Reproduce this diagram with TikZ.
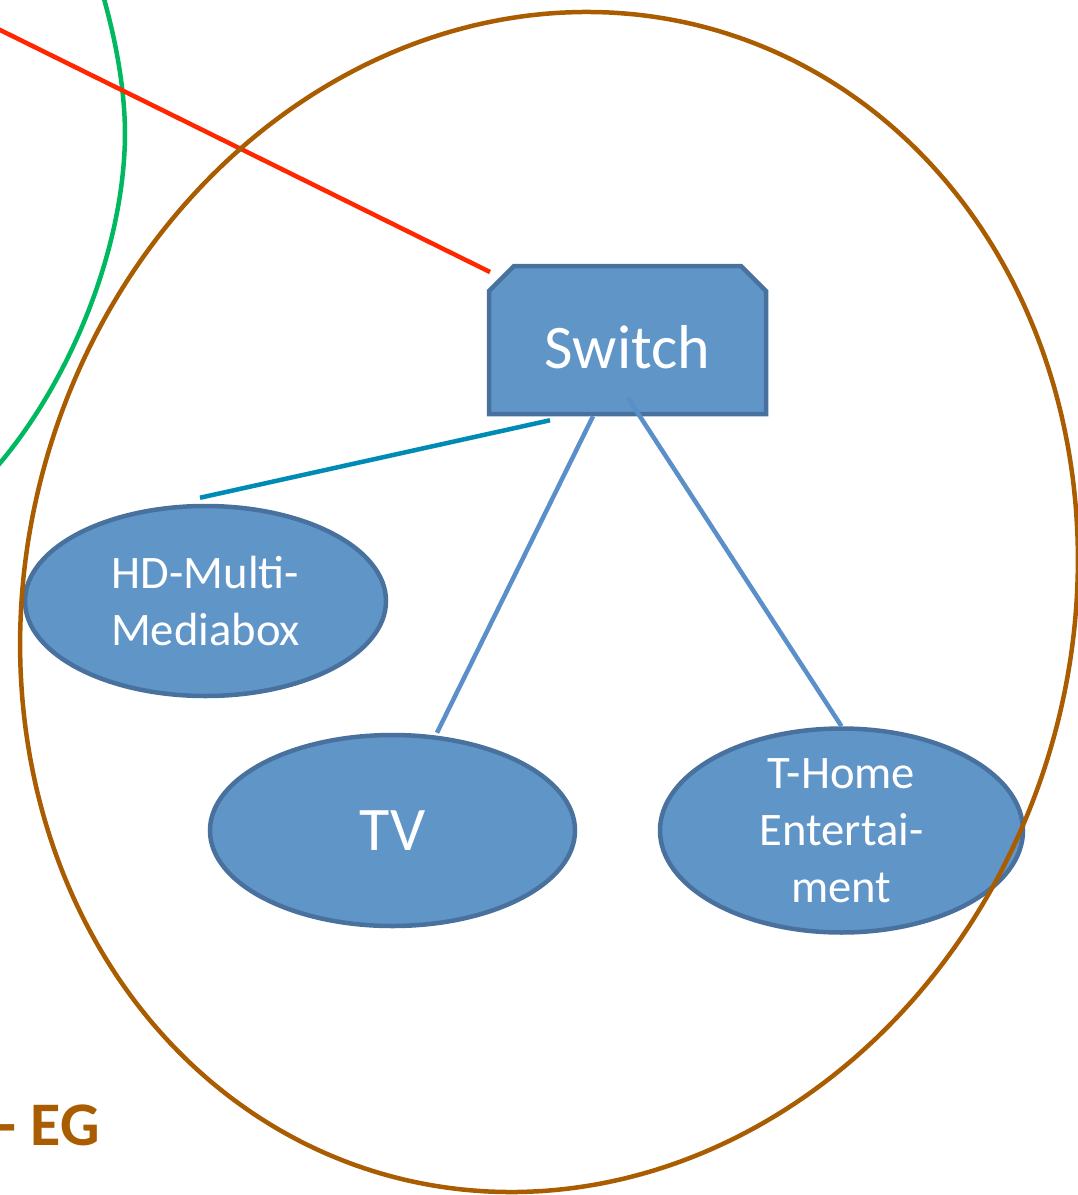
\documentclass[tikz,border=0pt]{standalone}
\usepackage{fontspec}
\setmainfont{Carlito}
\usetikzlibrary{shapes.geometric,shapes.misc}
\definecolor{nodefill}{HTML}{6095C8}
\definecolor{nodeborder}{HTML}{48719E}
\definecolor{linkblue}{HTML}{5B8FC9}
\definecolor{tealline}{HTML}{008BB5}
\definecolor{brownline}{HTML}{A95C00}
\definecolor{greenline}{HTML}{00B85F}
\definecolor{redline}{HTML}{FF2600}
\begin{document}
\begin{tikzpicture}[x=1pt,y=-1pt,
  dev/.style={ellipse, draw=nodeborder, fill=nodefill, line width=4.5pt, inner sep=0pt, text=white, align=center},
  smalltext/.style={font=\fontsize{46.6}{57}\selectfont},
  bigtext/.style={font=\fontsize{62}{70}\selectfont},
  link/.style={line width=4.5pt, draw=linkblue},
  tealink/.style={line width=4.5pt, draw=tealline},
  area/.style={line width=4.5pt},
]
\useasboundingbox (0,0) rectangle (1078,1195);
\clip (0,0) rectangle (1078,1195);

% green area boundary
\draw[area, draw=greenline] (100,-15) .. controls (118,45) and (125,95) .. (125,135)
  .. controls (124,250) and (70,380) .. (0,463) -- (-15,482);

% nodes
\node[chamfered rectangle, chamfered rectangle corners={north west,north east}, chamfered rectangle sep=12.5pt,
      draw=nodeborder, fill=nodefill, line width=4.5pt, inner sep=0pt,
      minimum width=277pt, minimum height=148pt, text=white, bigtext,
      text height=56pt, text depth=0pt] (sw) at (627.5,340) {Switch};
\node[dev, smalltext, minimum width=361pt, minimum height=190pt] (hd) at (205.5,601) {HD-Multi-\\Mediabox};
\node[dev, bigtext, minimum width=365pt, minimum height=191pt] (tv) at (392.5,830.5) {TV};
\node[dev, smalltext, minimum width=363pt, minimum height=191pt] (th) at (841.5,830.5) {T-Home\\Entertai-\\ment};

% red connector
\coordinate (redfree) at (-10,25);
\draw[line width=4.5pt, draw=redline] (redfree) -- ([xshift=-137.5pt, yshift=68pt]sw.center);

% connectors
\draw[tealink] ([xshift=-77.5pt, yshift=-4pt]sw.south) -- ([xshift=-5.5pt, yshift=6pt]hd.north);
\draw[link] ([xshift=-34.5pt]sw.south) -- ([xshift=44.5pt]tv.north);
\draw[link] ([yshift=19pt]sw.south) -- (th.north);

% brown area boundary
\draw[area, draw=brownline] plot[domain=0:360, samples=241, variable=\t, smooth]
  ({549+522.6*cos(\t)*cos(16.6)-595.7*sin(\t)*sin(16.6)},
   {602+522.6*cos(\t)*sin(16.6)+595.7*sin(\t)*cos(16.6)}) -- cycle;

% label
\node[anchor=base east, inner sep=0pt, text=brownline, font=\fontsize{62}{70}\selectfont\bfseries] (eg) at (100,1145) {- EG};
\end{tikzpicture}
\end{document}
